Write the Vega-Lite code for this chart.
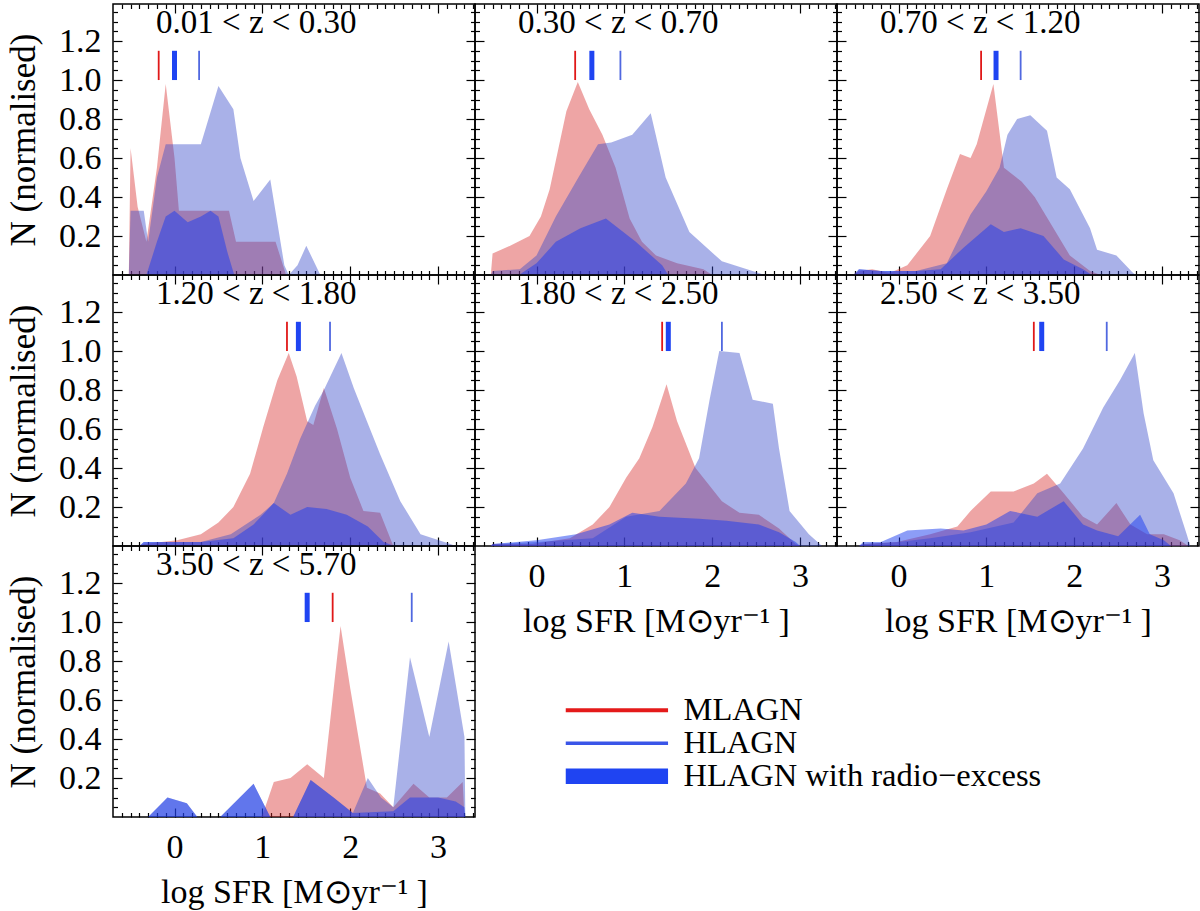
{
  "$schema": "https://vega.github.io/schema/vega-lite/v6.json",
  "background": "white",
  "padding": {"left": 5, "top": 2, "right": 0, "bottom": 0},
  "datasets": {
    "hist": [
      {"p":1,"s":"MLAGN","x":-0.52,"y":0},{"p":1,"s":"MLAGN","x":-0.5,"y":0.65},{"p":1,"s":"MLAGN","x":-0.42,"y":0.35},{"p":1,"s":"MLAGN","x":-0.32,"y":0.17},{"p":1,"s":"MLAGN","x":-0.2,"y":0.55},{"p":1,"s":"MLAGN","x":-0.1,"y":0.98},{"p":1,"s":"MLAGN","x":0.0,"y":0.6},{"p":1,"s":"MLAGN","x":0.05,"y":0.33},{"p":1,"s":"MLAGN","x":0.62,"y":0.33},{"p":1,"s":"MLAGN","x":0.7,"y":0.17},{"p":1,"s":"MLAGN","x":1.15,"y":0.17},{"p":1,"s":"MLAGN","x":1.27,"y":0},
      {"p":1,"s":"HLAGN","x":-0.52,"y":0},{"p":1,"s":"HLAGN","x":-0.5,"y":0.33},{"p":1,"s":"HLAGN","x":-0.35,"y":0.33},{"p":1,"s":"HLAGN","x":-0.3,"y":0.17},{"p":1,"s":"HLAGN","x":-0.2,"y":0.5},{"p":1,"s":"HLAGN","x":-0.1,"y":0.67},{"p":1,"s":"HLAGN","x":0.3,"y":0.67},{"p":1,"s":"HLAGN","x":0.5,"y":0.97},{"p":1,"s":"HLAGN","x":0.67,"y":0.85},{"p":1,"s":"HLAGN","x":0.75,"y":0.6},{"p":1,"s":"HLAGN","x":0.9,"y":0.38},{"p":1,"s":"HLAGN","x":1.09,"y":0.49},{"p":1,"s":"HLAGN","x":1.25,"y":0.05},{"p":1,"s":"HLAGN","x":1.3,"y":0},{"p":1,"s":"HLAGN","x":1.4,"y":0.05},{"p":1,"s":"HLAGN","x":1.5,"y":0.15},{"p":1,"s":"HLAGN","x":1.66,"y":0},
      {"p":1,"s":"RADIO","x":-0.32,"y":0},{"p":1,"s":"RADIO","x":-0.2,"y":0.17},{"p":1,"s":"RADIO","x":-0.1,"y":0.3},{"p":1,"s":"RADIO","x":0.0,"y":0.33},{"p":1,"s":"RADIO","x":0.15,"y":0.27},{"p":1,"s":"RADIO","x":0.3,"y":0.3},{"p":1,"s":"RADIO","x":0.41,"y":0.33},{"p":1,"s":"RADIO","x":0.5,"y":0.3},{"p":1,"s":"RADIO","x":0.6,"y":0.12},{"p":1,"s":"RADIO","x":0.68,"y":0},

      {"p":2,"s":"MLAGN","x":-0.52,"y":0},{"p":2,"s":"MLAGN","x":-0.5,"y":0.11},{"p":2,"s":"MLAGN","x":-0.3,"y":0.15},{"p":2,"s":"MLAGN","x":-0.08,"y":0.2},{"p":2,"s":"MLAGN","x":0.05,"y":0.3},{"p":2,"s":"MLAGN","x":0.15,"y":0.44},{"p":2,"s":"MLAGN","x":0.34,"y":0.84},{"p":2,"s":"MLAGN","x":0.47,"y":0.99},{"p":2,"s":"MLAGN","x":0.6,"y":0.85},{"p":2,"s":"MLAGN","x":0.75,"y":0.72},{"p":2,"s":"MLAGN","x":0.9,"y":0.55},{"p":2,"s":"MLAGN","x":1.06,"y":0.29},{"p":2,"s":"MLAGN","x":1.2,"y":0.17},{"p":2,"s":"MLAGN","x":1.36,"y":0.1},{"p":2,"s":"MLAGN","x":1.6,"y":0.06},{"p":2,"s":"MLAGN","x":1.9,"y":0.03},{"p":2,"s":"MLAGN","x":2.0,"y":0},
      {"p":2,"s":"HLAGN","x":-0.52,"y":0},{"p":2,"s":"HLAGN","x":-0.5,"y":0.02},{"p":2,"s":"HLAGN","x":-0.19,"y":0.03},{"p":2,"s":"HLAGN","x":0.0,"y":0.1},{"p":2,"s":"HLAGN","x":0.22,"y":0.3},{"p":2,"s":"HLAGN","x":0.49,"y":0.51},{"p":2,"s":"HLAGN","x":0.7,"y":0.67},{"p":2,"s":"HLAGN","x":0.85,"y":0.68},{"p":2,"s":"HLAGN","x":1.09,"y":0.72},{"p":2,"s":"HLAGN","x":1.3,"y":0.83},{"p":2,"s":"HLAGN","x":1.47,"y":0.5},{"p":2,"s":"HLAGN","x":1.74,"y":0.22},{"p":2,"s":"HLAGN","x":2.11,"y":0.07},{"p":2,"s":"HLAGN","x":2.53,"y":0.01},{"p":2,"s":"HLAGN","x":2.6,"y":0},
      {"p":2,"s":"RADIO","x":-0.2,"y":0},{"p":2,"s":"RADIO","x":0.0,"y":0.06},{"p":2,"s":"RADIO","x":0.22,"y":0.17},{"p":2,"s":"RADIO","x":0.5,"y":0.24},{"p":2,"s":"RADIO","x":0.79,"y":0.29},{"p":2,"s":"RADIO","x":1.13,"y":0.17},{"p":2,"s":"RADIO","x":1.43,"y":0.05},{"p":2,"s":"RADIO","x":1.5,"y":0},

      {"p":3,"s":"MLAGN","x":-0.52,"y":0},{"p":3,"s":"MLAGN","x":-0.45,"y":0.02},{"p":3,"s":"MLAGN","x":-0.3,"y":0.03},{"p":3,"s":"MLAGN","x":-0.1,"y":0.01},{"p":3,"s":"MLAGN","x":0.1,"y":0.05},{"p":3,"s":"MLAGN","x":0.36,"y":0.2},{"p":3,"s":"MLAGN","x":0.55,"y":0.44},{"p":3,"s":"MLAGN","x":0.7,"y":0.62},{"p":3,"s":"MLAGN","x":0.82,"y":0.6},{"p":3,"s":"MLAGN","x":0.89,"y":0.67},{"p":3,"s":"MLAGN","x":1.08,"y":0.98},{"p":3,"s":"MLAGN","x":1.2,"y":0.55},{"p":3,"s":"MLAGN","x":1.4,"y":0.48},{"p":3,"s":"MLAGN","x":1.55,"y":0.4},{"p":3,"s":"MLAGN","x":1.75,"y":0.25},{"p":3,"s":"MLAGN","x":1.95,"y":0.1},{"p":3,"s":"MLAGN","x":2.18,"y":0.02},{"p":3,"s":"MLAGN","x":2.3,"y":0},
      {"p":3,"s":"HLAGN","x":-0.52,"y":0},{"p":3,"s":"HLAGN","x":-0.45,"y":0.03},{"p":3,"s":"HLAGN","x":-0.2,"y":0.02},{"p":3,"s":"HLAGN","x":0.2,"y":0.02},{"p":3,"s":"HLAGN","x":0.55,"y":0.06},{"p":3,"s":"HLAGN","x":0.82,"y":0.31},{"p":3,"s":"HLAGN","x":1.0,"y":0.43},{"p":3,"s":"HLAGN","x":1.15,"y":0.55},{"p":3,"s":"HLAGN","x":1.24,"y":0.72},{"p":3,"s":"HLAGN","x":1.35,"y":0.8},{"p":3,"s":"HLAGN","x":1.5,"y":0.82},{"p":3,"s":"HLAGN","x":1.69,"y":0.74},{"p":3,"s":"HLAGN","x":1.8,"y":0.5},{"p":3,"s":"HLAGN","x":1.95,"y":0.44},{"p":3,"s":"HLAGN","x":2.18,"y":0.24},{"p":3,"s":"HLAGN","x":2.26,"y":0.13},{"p":3,"s":"HLAGN","x":2.48,"y":0.1},{"p":3,"s":"HLAGN","x":2.67,"y":0.01},{"p":3,"s":"HLAGN","x":2.7,"y":0},
      {"p":3,"s":"RADIO","x":-0.5,"y":0},{"p":3,"s":"RADIO","x":-0.45,"y":0.03},{"p":3,"s":"RADIO","x":-0.2,"y":0.02},{"p":3,"s":"RADIO","x":0.2,"y":0.02},{"p":3,"s":"RADIO","x":0.48,"y":0.03},{"p":3,"s":"RADIO","x":0.74,"y":0.14},{"p":3,"s":"RADIO","x":1.05,"y":0.26},{"p":3,"s":"RADIO","x":1.2,"y":0.22},{"p":3,"s":"RADIO","x":1.39,"y":0.24},{"p":3,"s":"RADIO","x":1.65,"y":0.2},{"p":3,"s":"RADIO","x":1.88,"y":0.08},{"p":3,"s":"RADIO","x":2.1,"y":0.03},{"p":3,"s":"RADIO","x":2.2,"y":0},

      {"p":4,"s":"MLAGN","x":-0.4,"y":0},{"p":4,"s":"MLAGN","x":-0.35,"y":0.01},{"p":4,"s":"MLAGN","x":0.03,"y":0.03},{"p":4,"s":"MLAGN","x":0.3,"y":0.06},{"p":4,"s":"MLAGN","x":0.5,"y":0.12},{"p":4,"s":"MLAGN","x":0.67,"y":0.2},{"p":4,"s":"MLAGN","x":0.86,"y":0.37},{"p":4,"s":"MLAGN","x":1.01,"y":0.61},{"p":4,"s":"MLAGN","x":1.17,"y":0.85},{"p":4,"s":"MLAGN","x":1.3,"y":0.99},{"p":4,"s":"MLAGN","x":1.39,"y":0.87},{"p":4,"s":"MLAGN","x":1.51,"y":0.64},{"p":4,"s":"MLAGN","x":1.58,"y":0.62},{"p":4,"s":"MLAGN","x":1.7,"y":0.81},{"p":4,"s":"MLAGN","x":1.85,"y":0.6},{"p":4,"s":"MLAGN","x":2.0,"y":0.35},{"p":4,"s":"MLAGN","x":2.15,"y":0.18},{"p":4,"s":"MLAGN","x":2.34,"y":0.17},{"p":4,"s":"MLAGN","x":2.49,"y":0},
      {"p":4,"s":"HLAGN","x":-0.4,"y":0},{"p":4,"s":"HLAGN","x":-0.35,"y":0.02},{"p":4,"s":"HLAGN","x":0.3,"y":0.02},{"p":4,"s":"HLAGN","x":0.64,"y":0.06},{"p":4,"s":"HLAGN","x":0.98,"y":0.16},{"p":4,"s":"HLAGN","x":1.13,"y":0.22},{"p":4,"s":"HLAGN","x":1.28,"y":0.37},{"p":4,"s":"HLAGN","x":1.43,"y":0.55},{"p":4,"s":"HLAGN","x":1.6,"y":0.72},{"p":4,"s":"HLAGN","x":1.7,"y":0.8},{"p":4,"s":"HLAGN","x":1.9,"y":0.99},{"p":4,"s":"HLAGN","x":2.04,"y":0.81},{"p":4,"s":"HLAGN","x":2.19,"y":0.64},{"p":4,"s":"HLAGN","x":2.34,"y":0.47},{"p":4,"s":"HLAGN","x":2.57,"y":0.23},{"p":4,"s":"HLAGN","x":2.8,"y":0.06},{"p":4,"s":"HLAGN","x":3.14,"y":0.01},{"p":4,"s":"HLAGN","x":3.2,"y":0},
      {"p":4,"s":"RADIO","x":-0.4,"y":0},{"p":4,"s":"RADIO","x":-0.35,"y":0.02},{"p":4,"s":"RADIO","x":0.3,"y":0.02},{"p":4,"s":"RADIO","x":0.67,"y":0.04},{"p":4,"s":"RADIO","x":0.9,"y":0.11},{"p":4,"s":"RADIO","x":1.13,"y":0.22},{"p":4,"s":"RADIO","x":1.32,"y":0.16},{"p":4,"s":"RADIO","x":1.51,"y":0.2},{"p":4,"s":"RADIO","x":1.73,"y":0.19},{"p":4,"s":"RADIO","x":1.96,"y":0.16},{"p":4,"s":"RADIO","x":2.2,"y":0.1},{"p":4,"s":"RADIO","x":2.38,"y":0.02},{"p":4,"s":"RADIO","x":2.5,"y":0},

      {"p":5,"s":"MLAGN","x":-0.52,"y":0},{"p":5,"s":"MLAGN","x":-0.5,"y":0.01},{"p":5,"s":"MLAGN","x":-0.05,"y":0.01},{"p":5,"s":"MLAGN","x":0.38,"y":0.04},{"p":5,"s":"MLAGN","x":0.64,"y":0.11},{"p":5,"s":"MLAGN","x":0.83,"y":0.2},{"p":5,"s":"MLAGN","x":1.02,"y":0.35},{"p":5,"s":"MLAGN","x":1.17,"y":0.45},{"p":5,"s":"MLAGN","x":1.32,"y":0.61},{"p":5,"s":"MLAGN","x":1.48,"y":0.83},{"p":5,"s":"MLAGN","x":1.6,"y":0.64},{"p":5,"s":"MLAGN","x":1.81,"y":0.4},{"p":5,"s":"MLAGN","x":2.11,"y":0.23},{"p":5,"s":"MLAGN","x":2.31,"y":0.17},{"p":5,"s":"MLAGN","x":2.53,"y":0.16},{"p":5,"s":"MLAGN","x":2.76,"y":0.09},{"p":5,"s":"MLAGN","x":2.95,"y":0.01},{"p":5,"s":"MLAGN","x":3.0,"y":0},
      {"p":5,"s":"HLAGN","x":-0.52,"y":0},{"p":5,"s":"HLAGN","x":-0.5,"y":0.01},{"p":5,"s":"HLAGN","x":0.0,"y":0.02},{"p":5,"s":"HLAGN","x":0.64,"y":0.04},{"p":5,"s":"HLAGN","x":1.02,"y":0.15},{"p":5,"s":"HLAGN","x":1.4,"y":0.18},{"p":5,"s":"HLAGN","x":1.7,"y":0.32},{"p":5,"s":"HLAGN","x":1.85,"y":0.45},{"p":5,"s":"HLAGN","x":1.97,"y":0.75},{"p":5,"s":"HLAGN","x":2.08,"y":1.0},{"p":5,"s":"HLAGN","x":2.31,"y":0.99},{"p":5,"s":"HLAGN","x":2.46,"y":0.75},{"p":5,"s":"HLAGN","x":2.69,"y":0.73},{"p":5,"s":"HLAGN","x":2.76,"y":0.5},{"p":5,"s":"HLAGN","x":2.88,"y":0.18},{"p":5,"s":"HLAGN","x":3.1,"y":0.06},{"p":5,"s":"HLAGN","x":3.25,"y":0},
      {"p":5,"s":"RADIO","x":-0.52,"y":0},{"p":5,"s":"RADIO","x":-0.5,"y":0.01},{"p":5,"s":"RADIO","x":0.0,"y":0.03},{"p":5,"s":"RADIO","x":0.45,"y":0.06},{"p":5,"s":"RADIO","x":0.83,"y":0.11},{"p":5,"s":"RADIO","x":1.09,"y":0.17},{"p":5,"s":"RADIO","x":1.4,"y":0.15},{"p":5,"s":"RADIO","x":1.85,"y":0.14},{"p":5,"s":"RADIO","x":2.16,"y":0.13},{"p":5,"s":"RADIO","x":2.53,"y":0.11},{"p":5,"s":"RADIO","x":2.76,"y":0.07},{"p":5,"s":"RADIO","x":2.95,"y":0.02},{"p":5,"s":"RADIO","x":3.0,"y":0},

      {"p":6,"s":"MLAGN","x":-0.45,"y":0},{"p":6,"s":"MLAGN","x":-0.4,"y":0.01},{"p":6,"s":"MLAGN","x":-0.02,"y":0.02},{"p":6,"s":"MLAGN","x":0.36,"y":0.06},{"p":6,"s":"MLAGN","x":0.67,"y":0.1},{"p":6,"s":"MLAGN","x":0.82,"y":0.18},{"p":6,"s":"MLAGN","x":1.05,"y":0.28},{"p":6,"s":"MLAGN","x":1.31,"y":0.28},{"p":6,"s":"MLAGN","x":1.54,"y":0.32},{"p":6,"s":"MLAGN","x":1.69,"y":0.37},{"p":6,"s":"MLAGN","x":1.88,"y":0.27},{"p":6,"s":"MLAGN","x":2.1,"y":0.15},{"p":6,"s":"MLAGN","x":2.26,"y":0.11},{"p":6,"s":"MLAGN","x":2.48,"y":0.22},{"p":6,"s":"MLAGN","x":2.64,"y":0.11},{"p":6,"s":"MLAGN","x":2.83,"y":0.06},{"p":6,"s":"MLAGN","x":3.02,"y":0.06},{"p":6,"s":"MLAGN","x":3.2,"y":0.03},{"p":6,"s":"MLAGN","x":3.3,"y":0},
      {"p":6,"s":"HLAGN","x":-0.45,"y":0},{"p":6,"s":"HLAGN","x":-0.4,"y":0.01},{"p":6,"s":"HLAGN","x":0.0,"y":0.02},{"p":6,"s":"HLAGN","x":0.36,"y":0.04},{"p":6,"s":"HLAGN","x":0.82,"y":0.07},{"p":6,"s":"HLAGN","x":1.31,"y":0.12},{"p":6,"s":"HLAGN","x":1.58,"y":0.27},{"p":6,"s":"HLAGN","x":1.84,"y":0.32},{"p":6,"s":"HLAGN","x":2.1,"y":0.5},{"p":6,"s":"HLAGN","x":2.33,"y":0.71},{"p":6,"s":"HLAGN","x":2.52,"y":0.85},{"p":6,"s":"HLAGN","x":2.69,"y":0.99},{"p":6,"s":"HLAGN","x":2.79,"y":0.68},{"p":6,"s":"HLAGN","x":2.9,"y":0.44},{"p":6,"s":"HLAGN","x":3.13,"y":0.27},{"p":6,"s":"HLAGN","x":3.28,"y":0.06},{"p":6,"s":"HLAGN","x":3.32,"y":0},
      {"p":6,"s":"RADIO","x":-0.45,"y":0},{"p":6,"s":"RADIO","x":-0.4,"y":0.02},{"p":6,"s":"RADIO","x":-0.2,"y":0.02},{"p":6,"s":"RADIO","x":0.1,"y":0.08},{"p":6,"s":"RADIO","x":0.48,"y":0.09},{"p":6,"s":"RADIO","x":0.74,"y":0.08},{"p":6,"s":"RADIO","x":1.0,"y":0.11},{"p":6,"s":"RADIO","x":1.27,"y":0.18},{"p":6,"s":"RADIO","x":1.58,"y":0.15},{"p":6,"s":"RADIO","x":1.88,"y":0.23},{"p":6,"s":"RADIO","x":2.1,"y":0.11},{"p":6,"s":"RADIO","x":2.26,"y":0.08},{"p":6,"s":"RADIO","x":2.5,"y":0.05},{"p":6,"s":"RADIO","x":2.75,"y":0.16},{"p":6,"s":"RADIO","x":2.86,"y":0.06},{"p":6,"s":"RADIO","x":3.02,"y":0.03},{"p":6,"s":"RADIO","x":3.1,"y":0},

      {"p":7,"s":"MLAGN","x":0.98,"y":0},{"p":7,"s":"MLAGN","x":1.01,"y":0.02},{"p":7,"s":"MLAGN","x":1.13,"y":0.18},{"p":7,"s":"MLAGN","x":1.32,"y":0.2},{"p":7,"s":"MLAGN","x":1.51,"y":0.27},{"p":7,"s":"MLAGN","x":1.7,"y":0.2},{"p":7,"s":"MLAGN","x":1.89,"y":0.98},{"p":7,"s":"MLAGN","x":2.0,"y":0.66},{"p":7,"s":"MLAGN","x":2.19,"y":0.15},{"p":7,"s":"MLAGN","x":2.34,"y":0.12},{"p":7,"s":"MLAGN","x":2.49,"y":0.05},{"p":7,"s":"MLAGN","x":2.72,"y":0.17},{"p":7,"s":"MLAGN","x":2.9,"y":0.1},{"p":7,"s":"MLAGN","x":3.1,"y":0.1},{"p":7,"s":"MLAGN","x":3.28,"y":0.18},{"p":7,"s":"MLAGN","x":3.3,"y":0},
      {"p":7,"s":"HLAGN","x":-0.3,"y":0},{"p":7,"s":"HLAGN","x":-0.08,"y":0.1},{"p":7,"s":"HLAGN","x":0.14,"y":0.07},{"p":7,"s":"HLAGN","x":0.26,"y":0},{"p":7,"s":"HLAGN","x":0.52,"y":0},{"p":7,"s":"HLAGN","x":0.9,"y":0.17},{"p":7,"s":"HLAGN","x":1.09,"y":0},{"p":7,"s":"HLAGN","x":1.35,"y":0},{"p":7,"s":"HLAGN","x":1.55,"y":0.19},{"p":7,"s":"HLAGN","x":1.81,"y":0.1},{"p":7,"s":"HLAGN","x":2.03,"y":0.02},{"p":7,"s":"HLAGN","x":2.2,"y":0.2},{"p":7,"s":"HLAGN","x":2.35,"y":0.1},{"p":7,"s":"HLAGN","x":2.49,"y":0.05},{"p":7,"s":"HLAGN","x":2.68,"y":0.82},{"p":7,"s":"HLAGN","x":2.9,"y":0.41},{"p":7,"s":"HLAGN","x":3.12,"y":0.9},{"p":7,"s":"HLAGN","x":3.3,"y":0.41},{"p":7,"s":"HLAGN","x":3.31,"y":0},
      {"p":7,"s":"RADIO","x":-0.3,"y":0},{"p":7,"s":"RADIO","x":-0.08,"y":0.1},{"p":7,"s":"RADIO","x":0.14,"y":0.07},{"p":7,"s":"RADIO","x":0.26,"y":0},{"p":7,"s":"RADIO","x":0.52,"y":0},{"p":7,"s":"RADIO","x":0.9,"y":0.17},{"p":7,"s":"RADIO","x":1.09,"y":0},{"p":7,"s":"RADIO","x":1.35,"y":0},{"p":7,"s":"RADIO","x":1.55,"y":0.19},{"p":7,"s":"RADIO","x":1.81,"y":0.1},{"p":7,"s":"RADIO","x":2.03,"y":0.02},{"p":7,"s":"RADIO","x":2.49,"y":0.03},{"p":7,"s":"RADIO","x":2.68,"y":0.1},{"p":7,"s":"RADIO","x":3.0,"y":0.1},{"p":7,"s":"RADIO","x":3.2,"y":0.08},{"p":7,"s":"RADIO","x":3.3,"y":0.05},{"p":7,"s":"RADIO","x":3.31,"y":0}
    ],
    "med": [
      {"p":1,"s":"MLAGN","x":-0.18},{"p":1,"s":"HLAGN with radio−excess","x":0.0},{"p":1,"s":"HLAGN","x":0.28},
      {"p":2,"s":"MLAGN","x":0.44},{"p":2,"s":"HLAGN with radio−excess","x":0.63},{"p":2,"s":"HLAGN","x":0.955},
      {"p":3,"s":"MLAGN","x":0.94},{"p":3,"s":"HLAGN with radio−excess","x":1.11},{"p":3,"s":"HLAGN","x":1.39},
      {"p":4,"s":"MLAGN","x":1.28},{"p":4,"s":"HLAGN with radio−excess","x":1.41},{"p":4,"s":"HLAGN","x":1.77},
      {"p":5,"s":"MLAGN","x":1.43},{"p":5,"s":"HLAGN with radio−excess","x":1.5},{"p":5,"s":"HLAGN","x":2.11},
      {"p":6,"s":"MLAGN","x":1.54},{"p":6,"s":"HLAGN with radio−excess","x":1.63},{"p":6,"s":"HLAGN","x":2.37},
      {"p":7,"s":"MLAGN","x":1.8},{"p":7,"s":"HLAGN with radio−excess","x":1.51},{"p":7,"s":"HLAGN","x":2.7}
    ],
    "lab": [
      {"p":1,"label":"0.01 < z < 0.30"},{"p":2,"label":"0.30 < z < 0.70"},{"p":3,"label":"0.70 < z < 1.20"},
      {"p":4,"label":"1.20 < z < 1.80"},{"p":5,"label":"1.80 < z < 2.50"},{"p":6,"label":"2.50 < z < 3.50"},
      {"p":7,"label":"3.50 < z < 5.70"}
    ]
  },
  "columns": 3,
  "spacing": 0,
  "bounds": "flush",
  "concat": [
    {"width":362,"height":271,"resolve":{"axis":{"x":"independent","y":"independent"}},"layer":[
      {"data":{"name":"hist"},"transform":[{"filter":"datum.p == 1"}],"mark":{"type":"area","interpolate":"linear"},"encoding":{
        "x":{"field":"x","type":"quantitative","scale":{"domain":[-0.7,3.42],"nice":false,"zero":false},"axis":{"orient":"bottom","values":[0,1,2,3],"domain":false,"grid":false,"tickSize":-9,"labels":false,"title":null,"maxExtent":0}},
        "y":{"field":"y","type":"quantitative","stack":null,"scale":{"domain":[0,1.39],"nice":false,"zero":false},"axis":{"orient":"left","values":[0.2,0.4,0.6,0.8,1,1.2],"domain":false,"grid":false,"tickSize":-9,"format":".1f","labelFontSize":34,"labelPadding":21,"labelFlush":false,"title":"N (normalised)","titleFontSize":35,"titlePadding":17}},
        "fill":{"field":"s","type":"nominal","scale":{"domain":["MLAGN","HLAGN","RADIO"],"range":["rgba(214,40,40,0.42)","rgba(50,70,200,0.42)","rgba(26,60,240,0.5)"]},"legend":null}}},
      {"data":{"name":"med"},"transform":[{"filter":"datum.p == 1 && datum.s != 'HLAGN with radio−excess'"}],"mark":{"type":"rule","strokeWidth":1.8},"encoding":{
        "x":{"field":"x","type":"quantitative","scale":{"domain":[-0.7,3.42],"nice":false,"zero":false},"axis":{"orient":"top","values":[0,1,2,3],"domain":false,"grid":false,"tickSize":-9,"labels":false,"title":null,"maxExtent":0}},
        "y":{"datum":1.0,"type":"quantitative","scale":{"domain":[0,1.39],"nice":false,"zero":false},"axis":{"orient":"right","values":[0.2,0.4,0.6,0.8,1,1.2],"domain":false,"grid":false,"tickSize":-9,"labels":false,"title":null,"maxExtent":0}},
        "y2":{"datum":1.15},
        "stroke":{"field":"s","type":"nominal","scale":{"domain":["MLAGN","HLAGN"],"range":["#e01818","#5068e0"]},"legend":null}}},
      {"data":{"name":"med"},"transform":[{"filter":"datum.p == 1 && datum.s == 'HLAGN with radio−excess'"}],"mark":{"type":"rule","strokeWidth":5,"color":"#1f44f2"},"encoding":{
        "x":{"field":"x","type":"quantitative","scale":{"domain":[-0.7,3.42],"nice":false,"zero":false},"axis":{"orient":"bottom","values":[-0.6,-0.5,-0.4,-0.3,-0.2,-0.1,0.1,0.2,0.3,0.4,0.5,0.6,0.7,0.8,0.9,1.1,1.2,1.3,1.4,1.5,1.6,1.7,1.8,1.9,2.1,2.2,2.3,2.4,2.5,2.6,2.7,2.8,2.9,3.1,3.2,3.3,3.4],"domain":false,"grid":false,"tickSize":-4.5,"labels":false,"title":null,"maxExtent":0}},
        "y":{"datum":1.0,"type":"quantitative","scale":{"domain":[0,1.39],"nice":false,"zero":false},"axis":{"orient":"left","values":[0.05,0.1,0.15,0.25,0.3,0.35,0.45,0.5,0.55,0.65,0.7,0.75,0.85,0.9,0.95,1.05,1.1,1.15,1.25,1.3,1.35],"domain":false,"grid":false,"tickSize":-4.5,"labels":false,"title":null,"maxExtent":0}},
        "y2":{"datum":1.15}}},
      {"data":{"name":"lab"},"transform":[{"filter":"datum.p == 1"}],"mark":{"type":"text","font":"Liberation Serif","fontSize":33,"align":"center","baseline":"middle","color":"black"},"encoding":{
        "x":{"datum":0.93,"type":"quantitative","scale":{"domain":[-0.7,3.42],"nice":false,"zero":false},"axis":{"orient":"top","values":[-0.6,-0.5,-0.4,-0.3,-0.2,-0.1,0.1,0.2,0.3,0.4,0.5,0.6,0.7,0.8,0.9,1.1,1.2,1.3,1.4,1.5,1.6,1.7,1.8,1.9,2.1,2.2,2.3,2.4,2.5,2.6,2.7,2.8,2.9,3.1,3.2,3.3,3.4],"domain":false,"grid":false,"tickSize":-4.5,"labels":false,"title":null,"maxExtent":0}},
        "y":{"datum":1.29,"type":"quantitative","scale":{"domain":[0,1.39],"nice":false,"zero":false},"axis":{"orient":"right","values":[0.05,0.1,0.15,0.25,0.3,0.35,0.45,0.5,0.55,0.65,0.7,0.75,0.85,0.9,0.95,1.05,1.1,1.15,1.25,1.3,1.35],"domain":false,"grid":false,"tickSize":-4.5,"labels":false,"title":null,"maxExtent":0}},
        "text":{"field":"label"}}}
    ]},
    {"width":362,"height":271,"resolve":{"axis":{"x":"independent","y":"independent"}},"layer":[
      {"data":{"name":"hist"},"transform":[{"filter":"datum.p == 2"}],"mark":{"type":"area","interpolate":"linear"},"encoding":{
        "x":{"field":"x","type":"quantitative","scale":{"domain":[-0.7,3.42],"nice":false,"zero":false},"axis":{"orient":"bottom","values":[0,1,2,3],"domain":false,"grid":false,"tickSize":-9,"labels":false,"title":null,"maxExtent":0}},
        "y":{"field":"y","type":"quantitative","stack":null,"scale":{"domain":[0,1.39],"nice":false,"zero":false},"axis":{"orient":"left","values":[0.2,0.4,0.6,0.8,1,1.2],"domain":false,"grid":false,"tickSize":-9,"labels":false,"title":null,"maxExtent":0}},
        "fill":{"field":"s","type":"nominal","scale":{"domain":["MLAGN","HLAGN","RADIO"],"range":["rgba(214,40,40,0.42)","rgba(50,70,200,0.42)","rgba(26,60,240,0.5)"]},"legend":null}}},
      {"data":{"name":"med"},"transform":[{"filter":"datum.p == 2 && datum.s != 'HLAGN with radio−excess'"}],"mark":{"type":"rule","strokeWidth":1.8},"encoding":{
        "x":{"field":"x","type":"quantitative","scale":{"domain":[-0.7,3.42],"nice":false,"zero":false},"axis":{"orient":"top","values":[0,1,2,3],"domain":false,"grid":false,"tickSize":-9,"labels":false,"title":null,"maxExtent":0}},
        "y":{"datum":1.0,"type":"quantitative","scale":{"domain":[0,1.39],"nice":false,"zero":false},"axis":{"orient":"right","values":[0.2,0.4,0.6,0.8,1,1.2],"domain":false,"grid":false,"tickSize":-9,"labels":false,"title":null,"maxExtent":0}},
        "y2":{"datum":1.15},
        "stroke":{"field":"s","type":"nominal","scale":{"domain":["MLAGN","HLAGN"],"range":["#e01818","#5068e0"]},"legend":null}}},
      {"data":{"name":"med"},"transform":[{"filter":"datum.p == 2 && datum.s == 'HLAGN with radio−excess'"}],"mark":{"type":"rule","strokeWidth":5,"color":"#1f44f2"},"encoding":{
        "x":{"field":"x","type":"quantitative","scale":{"domain":[-0.7,3.42],"nice":false,"zero":false},"axis":{"orient":"bottom","values":[-0.6,-0.5,-0.4,-0.3,-0.2,-0.1,0.1,0.2,0.3,0.4,0.5,0.6,0.7,0.8,0.9,1.1,1.2,1.3,1.4,1.5,1.6,1.7,1.8,1.9,2.1,2.2,2.3,2.4,2.5,2.6,2.7,2.8,2.9,3.1,3.2,3.3,3.4],"domain":false,"grid":false,"tickSize":-4.5,"labels":false,"title":null,"maxExtent":0}},
        "y":{"datum":1.0,"type":"quantitative","scale":{"domain":[0,1.39],"nice":false,"zero":false},"axis":{"orient":"left","values":[0.05,0.1,0.15,0.25,0.3,0.35,0.45,0.5,0.55,0.65,0.7,0.75,0.85,0.9,0.95,1.05,1.1,1.15,1.25,1.3,1.35],"domain":false,"grid":false,"tickSize":-4.5,"labels":false,"title":null,"maxExtent":0}},
        "y2":{"datum":1.15}}},
      {"data":{"name":"lab"},"transform":[{"filter":"datum.p == 2"}],"mark":{"type":"text","font":"Liberation Serif","fontSize":33,"align":"center","baseline":"middle","color":"black"},"encoding":{
        "x":{"datum":0.93,"type":"quantitative","scale":{"domain":[-0.7,3.42],"nice":false,"zero":false},"axis":{"orient":"top","values":[-0.6,-0.5,-0.4,-0.3,-0.2,-0.1,0.1,0.2,0.3,0.4,0.5,0.6,0.7,0.8,0.9,1.1,1.2,1.3,1.4,1.5,1.6,1.7,1.8,1.9,2.1,2.2,2.3,2.4,2.5,2.6,2.7,2.8,2.9,3.1,3.2,3.3,3.4],"domain":false,"grid":false,"tickSize":-4.5,"labels":false,"title":null,"maxExtent":0}},
        "y":{"datum":1.29,"type":"quantitative","scale":{"domain":[0,1.39],"nice":false,"zero":false},"axis":{"orient":"right","values":[0.05,0.1,0.15,0.25,0.3,0.35,0.45,0.5,0.55,0.65,0.7,0.75,0.85,0.9,0.95,1.05,1.1,1.15,1.25,1.3,1.35],"domain":false,"grid":false,"tickSize":-4.5,"labels":false,"title":null,"maxExtent":0}},
        "text":{"field":"label"}}}
    ]},
    {"width":362,"height":271,"resolve":{"axis":{"x":"independent","y":"independent"}},"layer":[
      {"data":{"name":"hist"},"transform":[{"filter":"datum.p == 3"}],"mark":{"type":"area","interpolate":"linear"},"encoding":{
        "x":{"field":"x","type":"quantitative","scale":{"domain":[-0.7,3.42],"nice":false,"zero":false},"axis":{"orient":"bottom","values":[0,1,2,3],"domain":false,"grid":false,"tickSize":-9,"labels":false,"title":null,"maxExtent":0}},
        "y":{"field":"y","type":"quantitative","stack":null,"scale":{"domain":[0,1.39],"nice":false,"zero":false},"axis":{"orient":"left","values":[0.2,0.4,0.6,0.8,1,1.2],"domain":false,"grid":false,"tickSize":-9,"labels":false,"title":null,"maxExtent":0}},
        "fill":{"field":"s","type":"nominal","scale":{"domain":["MLAGN","HLAGN","RADIO"],"range":["rgba(214,40,40,0.42)","rgba(50,70,200,0.42)","rgba(26,60,240,0.5)"]},"legend":null}}},
      {"data":{"name":"med"},"transform":[{"filter":"datum.p == 3 && datum.s != 'HLAGN with radio−excess'"}],"mark":{"type":"rule","strokeWidth":1.8},"encoding":{
        "x":{"field":"x","type":"quantitative","scale":{"domain":[-0.7,3.42],"nice":false,"zero":false},"axis":{"orient":"top","values":[0,1,2,3],"domain":false,"grid":false,"tickSize":-9,"labels":false,"title":null,"maxExtent":0}},
        "y":{"datum":1.0,"type":"quantitative","scale":{"domain":[0,1.39],"nice":false,"zero":false},"axis":{"orient":"right","values":[0.2,0.4,0.6,0.8,1,1.2],"domain":false,"grid":false,"tickSize":-9,"labels":false,"title":null,"maxExtent":0}},
        "y2":{"datum":1.15},
        "stroke":{"field":"s","type":"nominal","scale":{"domain":["MLAGN","HLAGN"],"range":["#e01818","#5068e0"]},"legend":null}}},
      {"data":{"name":"med"},"transform":[{"filter":"datum.p == 3 && datum.s == 'HLAGN with radio−excess'"}],"mark":{"type":"rule","strokeWidth":5,"color":"#1f44f2"},"encoding":{
        "x":{"field":"x","type":"quantitative","scale":{"domain":[-0.7,3.42],"nice":false,"zero":false},"axis":{"orient":"bottom","values":[-0.6,-0.5,-0.4,-0.3,-0.2,-0.1,0.1,0.2,0.3,0.4,0.5,0.6,0.7,0.8,0.9,1.1,1.2,1.3,1.4,1.5,1.6,1.7,1.8,1.9,2.1,2.2,2.3,2.4,2.5,2.6,2.7,2.8,2.9,3.1,3.2,3.3,3.4],"domain":false,"grid":false,"tickSize":-4.5,"labels":false,"title":null,"maxExtent":0}},
        "y":{"datum":1.0,"type":"quantitative","scale":{"domain":[0,1.39],"nice":false,"zero":false},"axis":{"orient":"left","values":[0.05,0.1,0.15,0.25,0.3,0.35,0.45,0.5,0.55,0.65,0.7,0.75,0.85,0.9,0.95,1.05,1.1,1.15,1.25,1.3,1.35],"domain":false,"grid":false,"tickSize":-4.5,"labels":false,"title":null,"maxExtent":0}},
        "y2":{"datum":1.15}}},
      {"data":{"name":"lab"},"transform":[{"filter":"datum.p == 3"}],"mark":{"type":"text","font":"Liberation Serif","fontSize":33,"align":"center","baseline":"middle","color":"black"},"encoding":{
        "x":{"datum":0.93,"type":"quantitative","scale":{"domain":[-0.7,3.42],"nice":false,"zero":false},"axis":{"orient":"top","values":[-0.6,-0.5,-0.4,-0.3,-0.2,-0.1,0.1,0.2,0.3,0.4,0.5,0.6,0.7,0.8,0.9,1.1,1.2,1.3,1.4,1.5,1.6,1.7,1.8,1.9,2.1,2.2,2.3,2.4,2.5,2.6,2.7,2.8,2.9,3.1,3.2,3.3,3.4],"domain":false,"grid":false,"tickSize":-4.5,"labels":false,"title":null,"maxExtent":0}},
        "y":{"datum":1.29,"type":"quantitative","scale":{"domain":[0,1.39],"nice":false,"zero":false},"axis":{"orient":"right","values":[0.05,0.1,0.15,0.25,0.3,0.35,0.45,0.5,0.55,0.65,0.7,0.75,0.85,0.9,0.95,1.05,1.1,1.15,1.25,1.3,1.35],"domain":false,"grid":false,"tickSize":-4.5,"labels":false,"title":null,"maxExtent":0}},
        "text":{"field":"label"}}}
    ]},
    {"width":362,"height":271,"resolve":{"axis":{"x":"independent","y":"independent"}},"layer":[
      {"data":{"name":"hist"},"transform":[{"filter":"datum.p == 4"}],"mark":{"type":"area","interpolate":"linear"},"encoding":{
        "x":{"field":"x","type":"quantitative","scale":{"domain":[-0.7,3.42],"nice":false,"zero":false},"axis":{"orient":"bottom","values":[0,1,2,3],"domain":false,"grid":false,"tickSize":-9,"labels":false,"title":null,"maxExtent":0}},
        "y":{"field":"y","type":"quantitative","stack":null,"scale":{"domain":[0,1.39],"nice":false,"zero":false},"axis":{"orient":"left","values":[0.2,0.4,0.6,0.8,1,1.2],"domain":false,"grid":false,"tickSize":-9,"format":".1f","labelFontSize":34,"labelPadding":21,"labelFlush":false,"title":"N (normalised)","titleFontSize":35,"titlePadding":17}},
        "fill":{"field":"s","type":"nominal","scale":{"domain":["MLAGN","HLAGN","RADIO"],"range":["rgba(214,40,40,0.42)","rgba(50,70,200,0.42)","rgba(26,60,240,0.5)"]},"legend":null}}},
      {"data":{"name":"med"},"transform":[{"filter":"datum.p == 4 && datum.s != 'HLAGN with radio−excess'"}],"mark":{"type":"rule","strokeWidth":1.8},"encoding":{
        "x":{"field":"x","type":"quantitative","scale":{"domain":[-0.7,3.42],"nice":false,"zero":false},"axis":{"orient":"top","values":[0,1,2,3],"domain":false,"grid":false,"tickSize":-9,"labels":false,"title":null,"maxExtent":0}},
        "y":{"datum":1.0,"type":"quantitative","scale":{"domain":[0,1.39],"nice":false,"zero":false},"axis":{"orient":"right","values":[0.2,0.4,0.6,0.8,1,1.2],"domain":false,"grid":false,"tickSize":-9,"labels":false,"title":null,"maxExtent":0}},
        "y2":{"datum":1.15},
        "stroke":{"field":"s","type":"nominal","scale":{"domain":["MLAGN","HLAGN"],"range":["#e01818","#5068e0"]},"legend":null}}},
      {"data":{"name":"med"},"transform":[{"filter":"datum.p == 4 && datum.s == 'HLAGN with radio−excess'"}],"mark":{"type":"rule","strokeWidth":5,"color":"#1f44f2"},"encoding":{
        "x":{"field":"x","type":"quantitative","scale":{"domain":[-0.7,3.42],"nice":false,"zero":false},"axis":{"orient":"bottom","values":[-0.6,-0.5,-0.4,-0.3,-0.2,-0.1,0.1,0.2,0.3,0.4,0.5,0.6,0.7,0.8,0.9,1.1,1.2,1.3,1.4,1.5,1.6,1.7,1.8,1.9,2.1,2.2,2.3,2.4,2.5,2.6,2.7,2.8,2.9,3.1,3.2,3.3,3.4],"domain":false,"grid":false,"tickSize":-4.5,"labels":false,"title":null,"maxExtent":0}},
        "y":{"datum":1.0,"type":"quantitative","scale":{"domain":[0,1.39],"nice":false,"zero":false},"axis":{"orient":"left","values":[0.05,0.1,0.15,0.25,0.3,0.35,0.45,0.5,0.55,0.65,0.7,0.75,0.85,0.9,0.95,1.05,1.1,1.15,1.25,1.3,1.35],"domain":false,"grid":false,"tickSize":-4.5,"labels":false,"title":null,"maxExtent":0}},
        "y2":{"datum":1.15}}},
      {"data":{"name":"lab"},"transform":[{"filter":"datum.p == 4"}],"mark":{"type":"text","font":"Liberation Serif","fontSize":33,"align":"center","baseline":"middle","color":"black"},"encoding":{
        "x":{"datum":0.93,"type":"quantitative","scale":{"domain":[-0.7,3.42],"nice":false,"zero":false},"axis":{"orient":"top","values":[-0.6,-0.5,-0.4,-0.3,-0.2,-0.1,0.1,0.2,0.3,0.4,0.5,0.6,0.7,0.8,0.9,1.1,1.2,1.3,1.4,1.5,1.6,1.7,1.8,1.9,2.1,2.2,2.3,2.4,2.5,2.6,2.7,2.8,2.9,3.1,3.2,3.3,3.4],"domain":false,"grid":false,"tickSize":-4.5,"labels":false,"title":null,"maxExtent":0}},
        "y":{"datum":1.29,"type":"quantitative","scale":{"domain":[0,1.39],"nice":false,"zero":false},"axis":{"orient":"right","values":[0.05,0.1,0.15,0.25,0.3,0.35,0.45,0.5,0.55,0.65,0.7,0.75,0.85,0.9,0.95,1.05,1.1,1.15,1.25,1.3,1.35],"domain":false,"grid":false,"tickSize":-4.5,"labels":false,"title":null,"maxExtent":0}},
        "text":{"field":"label"}}}
    ]},
    {"width":362,"height":271,"resolve":{"axis":{"x":"independent","y":"independent"}},"layer":[
      {"data":{"name":"hist"},"transform":[{"filter":"datum.p == 5"}],"mark":{"type":"area","interpolate":"linear"},"encoding":{
        "x":{"field":"x","type":"quantitative","scale":{"domain":[-0.7,3.42],"nice":false,"zero":false},"axis":{"orient":"bottom","values":[0,1,2,3],"domain":false,"grid":false,"tickSize":-9,"format":"d","labelFontSize":34,"labelPadding":22,"labelFlush":false,"title":"log SFR [M⊙yr⁻¹ ]","titleFontSize":34,"titlePadding":11}},
        "y":{"field":"y","type":"quantitative","stack":null,"scale":{"domain":[0,1.39],"nice":false,"zero":false},"axis":{"orient":"left","values":[0.2,0.4,0.6,0.8,1,1.2],"domain":false,"grid":false,"tickSize":-9,"labels":false,"title":null,"maxExtent":0}},
        "fill":{"field":"s","type":"nominal","scale":{"domain":["MLAGN","HLAGN","RADIO"],"range":["rgba(214,40,40,0.42)","rgba(50,70,200,0.42)","rgba(26,60,240,0.5)"]},"legend":null}}},
      {"data":{"name":"med"},"transform":[{"filter":"datum.p == 5 && datum.s != 'HLAGN with radio−excess'"}],"mark":{"type":"rule","strokeWidth":1.8},"encoding":{
        "x":{"field":"x","type":"quantitative","scale":{"domain":[-0.7,3.42],"nice":false,"zero":false},"axis":{"orient":"top","values":[0,1,2,3],"domain":false,"grid":false,"tickSize":-9,"labels":false,"title":null,"maxExtent":0}},
        "y":{"datum":1.0,"type":"quantitative","scale":{"domain":[0,1.39],"nice":false,"zero":false},"axis":{"orient":"right","values":[0.2,0.4,0.6,0.8,1,1.2],"domain":false,"grid":false,"tickSize":-9,"labels":false,"title":null,"maxExtent":0}},
        "y2":{"datum":1.15},
        "stroke":{"field":"s","type":"nominal","scale":{"domain":["MLAGN","HLAGN"],"range":["#e01818","#5068e0"]},"legend":null}}},
      {"data":{"name":"med"},"transform":[{"filter":"datum.p == 5 && datum.s == 'HLAGN with radio−excess'"}],"mark":{"type":"rule","strokeWidth":5,"color":"#1f44f2"},"encoding":{
        "x":{"field":"x","type":"quantitative","scale":{"domain":[-0.7,3.42],"nice":false,"zero":false},"axis":{"orient":"bottom","values":[-0.6,-0.5,-0.4,-0.3,-0.2,-0.1,0.1,0.2,0.3,0.4,0.5,0.6,0.7,0.8,0.9,1.1,1.2,1.3,1.4,1.5,1.6,1.7,1.8,1.9,2.1,2.2,2.3,2.4,2.5,2.6,2.7,2.8,2.9,3.1,3.2,3.3,3.4],"domain":false,"grid":false,"tickSize":-4.5,"labels":false,"title":null,"maxExtent":0}},
        "y":{"datum":1.0,"type":"quantitative","scale":{"domain":[0,1.39],"nice":false,"zero":false},"axis":{"orient":"left","values":[0.05,0.1,0.15,0.25,0.3,0.35,0.45,0.5,0.55,0.65,0.7,0.75,0.85,0.9,0.95,1.05,1.1,1.15,1.25,1.3,1.35],"domain":false,"grid":false,"tickSize":-4.5,"labels":false,"title":null,"maxExtent":0}},
        "y2":{"datum":1.15}}},
      {"data":{"name":"lab"},"transform":[{"filter":"datum.p == 5"}],"mark":{"type":"text","font":"Liberation Serif","fontSize":33,"align":"center","baseline":"middle","color":"black"},"encoding":{
        "x":{"datum":0.93,"type":"quantitative","scale":{"domain":[-0.7,3.42],"nice":false,"zero":false},"axis":{"orient":"top","values":[-0.6,-0.5,-0.4,-0.3,-0.2,-0.1,0.1,0.2,0.3,0.4,0.5,0.6,0.7,0.8,0.9,1.1,1.2,1.3,1.4,1.5,1.6,1.7,1.8,1.9,2.1,2.2,2.3,2.4,2.5,2.6,2.7,2.8,2.9,3.1,3.2,3.3,3.4],"domain":false,"grid":false,"tickSize":-4.5,"labels":false,"title":null,"maxExtent":0}},
        "y":{"datum":1.29,"type":"quantitative","scale":{"domain":[0,1.39],"nice":false,"zero":false},"axis":{"orient":"right","values":[0.05,0.1,0.15,0.25,0.3,0.35,0.45,0.5,0.55,0.65,0.7,0.75,0.85,0.9,0.95,1.05,1.1,1.15,1.25,1.3,1.35],"domain":false,"grid":false,"tickSize":-4.5,"labels":false,"title":null,"maxExtent":0}},
        "text":{"field":"label"}}}
    ]},
    {"width":362,"height":271,"resolve":{"axis":{"x":"independent","y":"independent"}},"layer":[
      {"data":{"name":"hist"},"transform":[{"filter":"datum.p == 6"}],"mark":{"type":"area","interpolate":"linear"},"encoding":{
        "x":{"field":"x","type":"quantitative","scale":{"domain":[-0.7,3.42],"nice":false,"zero":false},"axis":{"orient":"bottom","values":[0,1,2,3],"domain":false,"grid":false,"tickSize":-9,"format":"d","labelFontSize":34,"labelPadding":22,"labelFlush":false,"title":"log SFR [M⊙yr⁻¹ ]","titleFontSize":34,"titlePadding":11}},
        "y":{"field":"y","type":"quantitative","stack":null,"scale":{"domain":[0,1.39],"nice":false,"zero":false},"axis":{"orient":"left","values":[0.2,0.4,0.6,0.8,1,1.2],"domain":false,"grid":false,"tickSize":-9,"labels":false,"title":null,"maxExtent":0}},
        "fill":{"field":"s","type":"nominal","scale":{"domain":["MLAGN","HLAGN","RADIO"],"range":["rgba(214,40,40,0.42)","rgba(50,70,200,0.42)","rgba(26,60,240,0.5)"]},"legend":null}}},
      {"data":{"name":"med"},"transform":[{"filter":"datum.p == 6 && datum.s != 'HLAGN with radio−excess'"}],"mark":{"type":"rule","strokeWidth":1.8},"encoding":{
        "x":{"field":"x","type":"quantitative","scale":{"domain":[-0.7,3.42],"nice":false,"zero":false},"axis":{"orient":"top","values":[0,1,2,3],"domain":false,"grid":false,"tickSize":-9,"labels":false,"title":null,"maxExtent":0}},
        "y":{"datum":1.0,"type":"quantitative","scale":{"domain":[0,1.39],"nice":false,"zero":false},"axis":{"orient":"right","values":[0.2,0.4,0.6,0.8,1,1.2],"domain":false,"grid":false,"tickSize":-9,"labels":false,"title":null,"maxExtent":0}},
        "y2":{"datum":1.15},
        "stroke":{"field":"s","type":"nominal","scale":{"domain":["MLAGN","HLAGN"],"range":["#e01818","#5068e0"]},"legend":null}}},
      {"data":{"name":"med"},"transform":[{"filter":"datum.p == 6 && datum.s == 'HLAGN with radio−excess'"}],"mark":{"type":"rule","strokeWidth":5,"color":"#1f44f2"},"encoding":{
        "x":{"field":"x","type":"quantitative","scale":{"domain":[-0.7,3.42],"nice":false,"zero":false},"axis":{"orient":"bottom","values":[-0.6,-0.5,-0.4,-0.3,-0.2,-0.1,0.1,0.2,0.3,0.4,0.5,0.6,0.7,0.8,0.9,1.1,1.2,1.3,1.4,1.5,1.6,1.7,1.8,1.9,2.1,2.2,2.3,2.4,2.5,2.6,2.7,2.8,2.9,3.1,3.2,3.3,3.4],"domain":false,"grid":false,"tickSize":-4.5,"labels":false,"title":null,"maxExtent":0}},
        "y":{"datum":1.0,"type":"quantitative","scale":{"domain":[0,1.39],"nice":false,"zero":false},"axis":{"orient":"left","values":[0.05,0.1,0.15,0.25,0.3,0.35,0.45,0.5,0.55,0.65,0.7,0.75,0.85,0.9,0.95,1.05,1.1,1.15,1.25,1.3,1.35],"domain":false,"grid":false,"tickSize":-4.5,"labels":false,"title":null,"maxExtent":0}},
        "y2":{"datum":1.15}}},
      {"data":{"name":"lab"},"transform":[{"filter":"datum.p == 6"}],"mark":{"type":"text","font":"Liberation Serif","fontSize":33,"align":"center","baseline":"middle","color":"black"},"encoding":{
        "x":{"datum":0.93,"type":"quantitative","scale":{"domain":[-0.7,3.42],"nice":false,"zero":false},"axis":{"orient":"top","values":[-0.6,-0.5,-0.4,-0.3,-0.2,-0.1,0.1,0.2,0.3,0.4,0.5,0.6,0.7,0.8,0.9,1.1,1.2,1.3,1.4,1.5,1.6,1.7,1.8,1.9,2.1,2.2,2.3,2.4,2.5,2.6,2.7,2.8,2.9,3.1,3.2,3.3,3.4],"domain":false,"grid":false,"tickSize":-4.5,"labels":false,"title":null,"maxExtent":0}},
        "y":{"datum":1.29,"type":"quantitative","scale":{"domain":[0,1.39],"nice":false,"zero":false},"axis":{"orient":"right","values":[0.05,0.1,0.15,0.25,0.3,0.35,0.45,0.5,0.55,0.65,0.7,0.75,0.85,0.9,0.95,1.05,1.1,1.15,1.25,1.3,1.35],"domain":false,"grid":false,"tickSize":-4.5,"labels":false,"title":null,"maxExtent":0}},
        "text":{"field":"label"}}}
    ]},
    {"width":362,"height":271,"resolve":{"axis":{"x":"independent","y":"independent"}},"layer":[
      {"data":{"name":"hist"},"transform":[{"filter":"datum.p == 7"}],"mark":{"type":"area","interpolate":"linear"},"encoding":{
        "x":{"field":"x","type":"quantitative","scale":{"domain":[-0.7,3.42],"nice":false,"zero":false},"axis":{"orient":"bottom","values":[0,1,2,3],"domain":false,"grid":false,"tickSize":-9,"format":"d","labelFontSize":34,"labelPadding":22,"labelFlush":false,"title":"log SFR [M⊙yr⁻¹ ]","titleFontSize":34,"titlePadding":11}},
        "y":{"field":"y","type":"quantitative","stack":null,"scale":{"domain":[0,1.39],"nice":false,"zero":false},"axis":{"orient":"left","values":[0.2,0.4,0.6,0.8,1,1.2],"domain":false,"grid":false,"tickSize":-9,"format":".1f","labelFontSize":34,"labelPadding":21,"labelFlush":false,"title":"N (normalised)","titleFontSize":35,"titlePadding":17}},
        "fill":{"field":"s","type":"nominal","scale":{"domain":["MLAGN","HLAGN","RADIO"],"range":["rgba(214,40,40,0.42)","rgba(50,70,200,0.42)","rgba(26,60,240,0.5)"]},"legend":null}}},
      {"data":{"name":"med"},"transform":[{"filter":"datum.p == 7 && datum.s != 'HLAGN with radio−excess'"}],"mark":{"type":"rule","strokeWidth":1.8},"encoding":{
        "x":{"field":"x","type":"quantitative","scale":{"domain":[-0.7,3.42],"nice":false,"zero":false},"axis":{"orient":"top","values":[0,1,2,3],"domain":false,"grid":false,"tickSize":-9,"labels":false,"title":null,"maxExtent":0}},
        "y":{"datum":1.0,"type":"quantitative","scale":{"domain":[0,1.39],"nice":false,"zero":false},"axis":{"orient":"right","values":[0.2,0.4,0.6,0.8,1,1.2],"domain":false,"grid":false,"tickSize":-9,"labels":false,"title":null,"maxExtent":0}},
        "y2":{"datum":1.15},
        "stroke":{"field":"s","type":"nominal","scale":{"domain":["MLAGN","HLAGN"],"range":["#e01818","#5068e0"]},"legend":null}}},
      {"data":{"name":"med"},"transform":[{"filter":"datum.p == 7 && datum.s == 'HLAGN with radio−excess'"}],"mark":{"type":"rule","strokeWidth":5,"color":"#1f44f2"},"encoding":{
        "x":{"field":"x","type":"quantitative","scale":{"domain":[-0.7,3.42],"nice":false,"zero":false},"axis":{"orient":"bottom","values":[-0.6,-0.5,-0.4,-0.3,-0.2,-0.1,0.1,0.2,0.3,0.4,0.5,0.6,0.7,0.8,0.9,1.1,1.2,1.3,1.4,1.5,1.6,1.7,1.8,1.9,2.1,2.2,2.3,2.4,2.5,2.6,2.7,2.8,2.9,3.1,3.2,3.3,3.4],"domain":false,"grid":false,"tickSize":-4.5,"labels":false,"title":null,"maxExtent":0}},
        "y":{"datum":1.0,"type":"quantitative","scale":{"domain":[0,1.39],"nice":false,"zero":false},"axis":{"orient":"left","values":[0.05,0.1,0.15,0.25,0.3,0.35,0.45,0.5,0.55,0.65,0.7,0.75,0.85,0.9,0.95,1.05,1.1,1.15,1.25,1.3,1.35],"domain":false,"grid":false,"tickSize":-4.5,"labels":false,"title":null,"maxExtent":0}},
        "y2":{"datum":1.15}}},
      {"data":{"name":"lab"},"transform":[{"filter":"datum.p == 7"}],"mark":{"type":"text","font":"Liberation Serif","fontSize":33,"align":"center","baseline":"middle","color":"black"},"encoding":{
        "x":{"datum":0.93,"type":"quantitative","scale":{"domain":[-0.7,3.42],"nice":false,"zero":false},"axis":{"orient":"top","values":[-0.6,-0.5,-0.4,-0.3,-0.2,-0.1,0.1,0.2,0.3,0.4,0.5,0.6,0.7,0.8,0.9,1.1,1.2,1.3,1.4,1.5,1.6,1.7,1.8,1.9,2.1,2.2,2.3,2.4,2.5,2.6,2.7,2.8,2.9,3.1,3.2,3.3,3.4],"domain":false,"grid":false,"tickSize":-4.5,"labels":false,"title":null,"maxExtent":0}},
        "y":{"datum":1.29,"type":"quantitative","scale":{"domain":[0,1.39],"nice":false,"zero":false},"axis":{"orient":"right","values":[0.05,0.1,0.15,0.25,0.3,0.35,0.45,0.5,0.55,0.65,0.7,0.75,0.85,0.9,0.95,1.05,1.1,1.15,1.25,1.3,1.35],"domain":false,"grid":false,"tickSize":-4.5,"labels":false,"title":null,"maxExtent":0}},
        "text":{"field":"label"}}},
      {"data":{"name":"med"},"transform":[{"filter":"false"}],"mark":{"type":"point","filled":true,"size":961,"opacity":1},"encoding":{
        "color":{"field":"s","type":"nominal","scale":{"domain":["MLAGN","HLAGN","HLAGN with radio−excess"],"range":["#e41a1a","#3a55e8","#1f44f2"]},"legend":{"title":null}},
        "shape":{"field":"s","type":"nominal","scale":{"domain":["MLAGN","HLAGN","HLAGN with radio−excess"],"range":["M-1,-0.13H5.6V0.13H-1Z","M-1,-0.11H5.6V0.11H-1Z","M-1,-0.5H5.6V0.5H-1Z"]},"legend":{"title":null}}}}
    ]}
  ],
  "config": {
    "font": "Liberation Serif",
    "view": {"stroke": "black", "strokeWidth": 1.5},
    "axis": {"labelFont": "Liberation Serif", "titleFont": "Liberation Serif", "titleFontWeight": "normal", "labelColor": "black", "titleColor": "black", "tickColor": "black", "tickWidth": 1.2},
    "legend": {"orient": "none", "legendX": 452, "legendY": 690, "symbolSize": 961, "symbolStrokeWidth": 0, "labelFont": "Liberation Serif", "labelFontSize": 32.5, "labelColor": "black", "labelOffset": 86, "rowPadding": 0, "padding": 0, "offset": 0, "labelLimit": 600}
  }
}
